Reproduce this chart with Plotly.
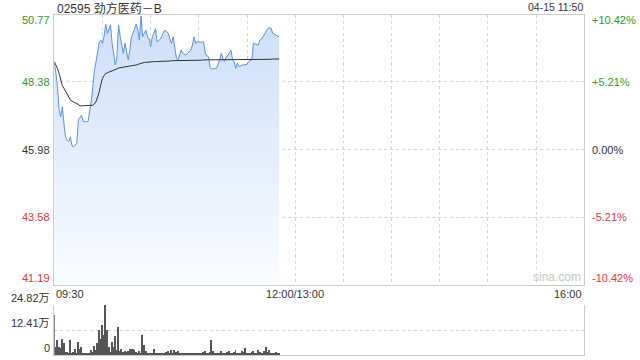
import plotly.graph_objects as go

W, H = 640, 360

# ---- data ----
minutes = list(range(0, 141))  # minutes since 09:30, up to 11:50
price = [49.04, 48.70, 48.20, 47.40, 47.14, 47.50, 46.90, 46.43, 46.30, 46.26,
         46.43, 46.10, 46.08, 46.15, 46.20, 47.03, 47.10, 47.20, 46.97, 46.98,
         46.97, 46.97, 47.32, 47.70, 48.21, 48.80, 49.10, 49.51, 49.80, 49.86,
         49.75, 50.00, 50.43, 50.10, 50.25, 50.40, 49.75, 49.30, 48.98, 49.27,
         50.40, 50.00, 49.63, 49.39, 49.75, 49.50, 49.16, 49.50, 49.98, 50.10,
         50.30, 50.43, 50.22, 49.86, 50.72, 49.98, 50.10, 50.22, 50.00, 49.90,
         49.63, 49.98, 50.10, 50.28, 49.80, 49.85, 49.90, 50.00, 50.15, 50.22,
         50.15, 50.10, 49.90, 49.75, 49.98, 49.60, 49.22, 49.16, 49.30, 49.51,
         49.39, 49.35, 49.33, 49.40, 49.45, 49.50, 49.69, 49.98, 49.75, 49.80,
         49.80, 49.78, 49.80, 49.80, 49.39, 49.30, 49.27, 48.90, 48.83, 48.85,
         48.86, 48.86, 49.00, 49.16, 49.40, 49.20, 49.10, 49.27, 49.30, 49.39,
         49.51, 49.16, 49.10, 48.86, 49.04, 48.92, 48.95, 48.98, 48.98, 48.98,
         49.00, 49.10, 49.12, 49.16, 49.75, 49.72, 49.70, 49.69, 49.86, 49.90,
         49.98, 50.10, 50.22, 50.28, 50.30, 50.28, 50.10, 50.08, 50.04, 50.00,
         49.98]
avg_price = [49.10, 49.00, 48.85, 48.68, 48.40, 48.25, 48.15, 48.05, 47.95, 47.85,
             47.74, 47.70, 47.66, 47.63, 47.62, 47.56, 47.53, 47.53, 47.53, 47.53,
             47.53, 47.53, 47.53, 47.53, 47.55, 47.60, 47.68, 47.85, 48.03, 48.30,
             48.50, 48.60, 48.68, 48.70, 48.72, 48.75, 48.77, 48.78, 48.80, 48.84,
             48.87, 48.88, 48.89, 48.90, 48.90, 48.91, 48.92, 48.92, 48.93, 48.95,
             48.96, 48.98, 49.00, 49.02, 49.04, 49.06, 49.07, 49.07, 49.08, 49.08,
             49.09, 49.09, 49.10, 49.10, 49.10, 49.10, 49.11, 49.11, 49.11, 49.12,
             49.12, 49.12, 49.12, 49.13, 49.13, 49.13, 49.13, 49.13, 49.13, 49.14,
             49.14, 49.14, 49.14, 49.14, 49.14, 49.14, 49.15, 49.15, 49.15, 49.15,
             49.15, 49.15, 49.15, 49.16, 49.16, 49.16, 49.16, 49.16, 49.16, 49.16,
             49.16, 49.16, 49.16, 49.16, 49.16, 49.16, 49.16, 49.16, 49.16, 49.16,
             49.16, 49.16, 49.16, 49.16, 49.16, 49.16, 49.16, 49.16, 49.16, 49.16,
             49.16, 49.16, 49.16, 49.16, 49.17, 49.17, 49.17, 49.17, 49.17, 49.17,
             49.18, 49.18, 49.18, 49.18, 49.18, 49.18, 49.19, 49.19, 49.19, 49.19,
             49.19]
volume = [19.9, 4.0, 7.4, 4.1, 3.3, 7.8, 6.1, 1.7, 1.7, 1.2,
          7.4, 1.2, 1.7, 2.8, 1.0, 6.6, 2.8, 3.8, 0.8, 1.0,
          0.6, 1.2, 0.8, 2.5, 1.5, 4.5, 2.5, 5.8, 12.4, 7.8,
          14.9, 9.9, 24.82, 12.4, 4.1, 1.7, 6.6, 4.1, 9.4, 2.5,
          14.1, 2.2, 2.8, 1.5, 2.0, 1.6, 2.2, 2.8, 3.2, 3.2,
          2.6, 1.5, 1.2, 2.0, 1.0, 9.9, 5.0, 2.0, 1.0, 0.8,
          1.2, 0.6, 3.0, 1.0, 0.8, 1.2, 1.0, 0.6, 1.2, 0.8,
          1.5, 2.0, 0.8, 2.5, 1.2, 2.5, 1.5, 2.0, 1.2, 0.8,
          1.0, 0.6, 1.2, 0.8, 0.6, 1.0, 0.8, 0.5, 1.2, 0.8,
          0.6, 1.0, 0.8, 1.5, 2.0, 1.2, 0.8, 1.5, 7.4, 2.0,
          1.0, 0.8, 1.2, 0.6, 2.0, 1.0, 0.8, 1.2, 1.5, 2.0,
          0.8, 1.0, 1.5, 2.5, 1.2, 0.8, 1.0, 2.0, 1.5, 3.3,
          1.0, 1.2, 0.8, 1.5, 2.0, 1.0, 1.2, 2.5, 1.5, 1.0,
          0.8, 2.0, 3.8, 1.5, 2.5, 1.0, 1.2, 0.8, 1.5, 1.0,
          0.8]

price_ticks = [50.77, 48.38, 45.98, 43.58, 41.19]
pct_ticks = ["+10.42%", "+5.21%", "0.00%", "-5.21%", "-10.42%"]
vol_ticks = [24.82, 12.41, 0]
vol_labels = ["24.82万", "12.41万", "0"]
x_labels = ["09:30", "12:00/13:00", "16:00"]
x_label_pos = [0, 150, 330]
title = "02595 劲方医药－B"
stamp = "04-15 11:50"

GREEN = "#2a9f2a"
RED = "#ee3333"
DARK = "#333333"
FONT = "Liberation Sans, Arial, Noto Sans CJK SC, sans-serif"

# ---- layout geometry (pixels) ----
L, R = 54.3, 584.3
MT, MB = 14.5, 284.5
VT, VB = 305.0, 355.0

def py(p):
    return 1 - p / H

def px(p):
    return p / W

fig = go.Figure()
fig.add_trace(go.Scatter(
    x=minutes, y=price, mode="lines",
    line=dict(color="#5a90ec", width=1),
    fill="tozeroy",
    fillgradient=dict(type="vertical",
                      colorscale=[[0, "rgba(250,252,255,1)"], [1, "rgba(204,222,249,1)"]],
                      start=price_ticks[-1], stop=price_ticks[0]),
    hoverinfo="skip", xaxis="x", yaxis="y"))
fig.add_trace(go.Scatter(
    x=minutes, y=avg_price, mode="lines",
    line=dict(color=DARK, width=1), hoverinfo="skip", xaxis="x", yaxis="y"))
fig.add_trace(go.Bar(
    x=minutes, y=volume, width=0.6, marker=dict(color="#555555", line=dict(width=0)),
    hoverinfo="skip", xaxis="x2", yaxis="y2"))

grid = dict(gridcolor="#d4d4d4", griddash="dot", gridwidth=1)
border = dict(showline=True, linecolor="#cccccc", linewidth=1)

fig.update_layout(
    width=W, height=H, margin=dict(l=0, r=0, t=0, b=0),
    paper_bgcolor="white", plot_bgcolor="white", showlegend=False,
    bargap=0,
    xaxis=dict(domain=[px(L), px(R)], range=[0, 330], tick0=0, dtick=30,
               showticklabels=False, ticks="", zeroline=False, showgrid=True,
               mirror=True, anchor="y", **grid, **border),
    yaxis=dict(domain=[py(MB), py(MT)], range=[price_ticks[-1], price_ticks[0]],
               tickvals=price_ticks[1:-1], showticklabels=False, ticks="",
               zeroline=False, showgrid=True, mirror=True, anchor="x", **grid, **border),
    xaxis2=dict(domain=[px(L), px(R)], range=[0, 330], showticklabels=False, ticks="",
                zeroline=False, showgrid=False, anchor="y2", showline=True,
                linecolor="#cccccc", linewidth=1),
    yaxis2=dict(domain=[py(VB), py(VT)], range=[0, vol_ticks[0]],
                tickvals=vol_ticks[:2], showticklabels=False, ticks="",
                zeroline=False, showgrid=True, mirror=True, anchor="x2",
                **grid, **border),
)

ann = []
def text(x, y, s, color=DARK, size=11, xanchor="left", yanchor="middle", xref="paper", yref="paper", yshift=0):
    ann.append(dict(x=x, y=y, text=s, showarrow=False, xref=xref, yref=yref,
                    xanchor=xanchor, yanchor=yanchor, yshift=yshift,
                    font=dict(family=FONT, size=size, color=color)))

text(px(55), py(8), title, size=12)
text(px(584.5), py(7), stamp, size=10.5, xanchor="right")

colors = [GREEN, GREEN, DARK, RED, RED]
shifts = [-6, 0, 0, 0, 7]
for v, p, c, s in zip(price_ticks, pct_ticks, colors, shifts):
    text(px(51.5), v, f"{v:.2f}", color=c, xanchor="right", yref="y", yshift=s)
    text(px(589.5), v, p, color=c, xanchor="left", yref="y", yshift=s)

for v, s in zip(vol_ticks, vol_labels):
    text(px(51.5), v, s, xanchor="right", yref="y2", yshift=7)

anchors = ["left", "center", "right"]
for pos, s, a in zip(x_label_pos, x_labels, anchors):
    text(pos, py(293.5), s, xanchor=a, xref="x")

text(px(583), py(277), "sina.com", color="#c8c8c8", size=12, xanchor="right")

fig.update_layout(annotations=ann)
fig.write_html("out.html")
